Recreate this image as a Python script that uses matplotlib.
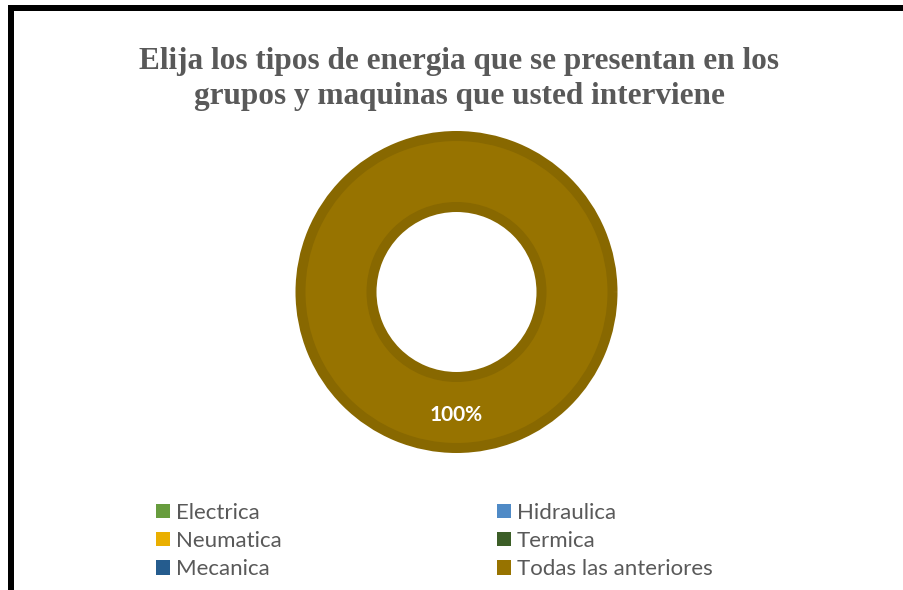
import matplotlib
matplotlib.use("Agg")
import matplotlib.pyplot as plt
from matplotlib.patches import Patch, Rectangle

categories = ["Electrica", "Hidraulica", "Neumatica", "Termica", "Mecanica", "Todas las anteriores"]
values = [0, 0, 0, 0, 0, 100]
colors = ["#679C3D", "#4F8AC6", "#EAAF00", "#3C5E27", "#255C8E", "#977300"]
edge_colors = ["#5C8C36", "#4679B0", "#D19C00", "#345223", "#20517D", "#886800"]
title_lines = ["Elija los tipos de energia que se presentan en los",
               "grupos y maquinas que usted interviene"]

W, H, DPI = 904, 590, 100
fig = plt.figure(figsize=(W / DPI, H / DPI), dpi=DPI)
fig.patch.set_facecolor("white")

# outer frame (extends past right/bottom edge)
fig.patches.append(Rectangle((11 / W, -20 / H), (W + 20) / W, (H - 8 + 20) / H,
                             transform=fig.transFigure, fill=False,
                             edgecolor="black", linewidth=6 * 72 / DPI, zorder=0))

for k, line in enumerate(title_lines):
    fig.text(459 / W, 1 - (69 + 35 * k) / H, line, ha="center", va="baseline",
             fontsize=22.5, fontweight="bold", family="Liberation Serif",
             color="#595959")

# donut
cx, cy, half = 456.5, H - 292, 170
ax = fig.add_axes([(cx - half) / W, (cy - half) / H, 2 * half / W, 2 * half / H])

draw_idx = [i for i, v in enumerate(values) if v > 0]
R = 156 / half
width = 71 / half
wedges, texts, autotexts = ax.pie(
    [values[i] for i in draw_idx],
    colors=[colors[i] for i in draw_idx],
    radius=R, startangle=90, counterclock=False,
    wedgeprops=dict(width=width, linewidth=10 * 72 / DPI),
    autopct=lambda p: f"{p:.0f}%", pctdistance=(123 / half) / R,
    textprops=dict(color="white", fontsize=15, fontweight="bold", family="Lato"))
for w, i in zip(wedges, draw_idx):
    w.set_edgecolor(edge_colors[i])
ax.set_xlim(-1, 1)
ax.set_ylim(-1, 1)
ax.set_aspect("equal")
ax.axis("off")

# legend (row-wise order like the reference)
handles = [Patch(facecolor=c, edgecolor="none") for c in colors]
order = [0, 2, 4, 1, 3, 5]
leg = fig.legend([handles[i] for i in order], [categories[i] for i in order],
                 ncol=2, loc="center left", bbox_to_anchor=(156 / W, 1 - 541 / H),
                 frameon=False, prop=dict(family="Lato", size=16),
                 labelcolor="#595959", handlelength=0.63, handleheight=0.63,
                 handletextpad=0.27, labelspacing=0.37, columnspacing=9.68,
                 borderpad=0, borderaxespad=0)

fig.savefig("out.png", dpi=DPI, facecolor="white")
